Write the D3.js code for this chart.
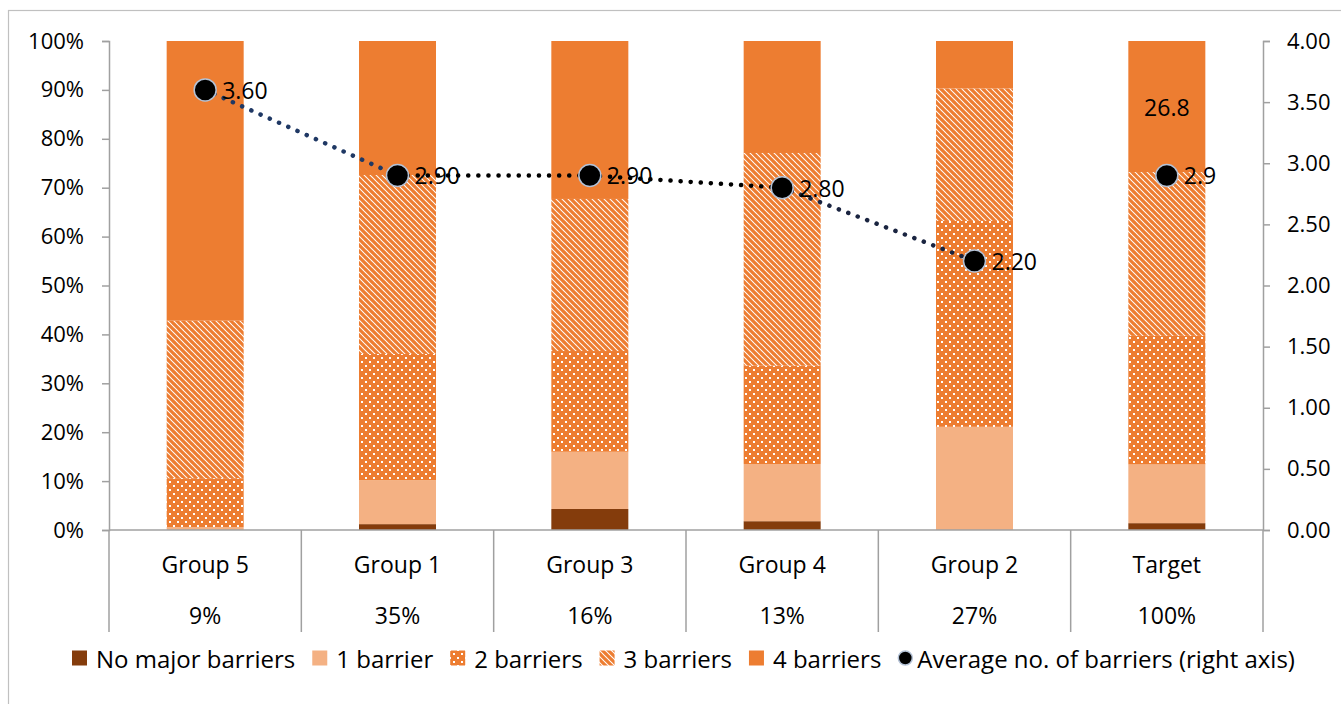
<!DOCTYPE html>
<html>
<head>
<meta charset="utf-8">
<script src="https://cdn.jsdelivr.net/npm/d3@7"></script>
<style>
  html, body { margin: 0; padding: 0; background: #fff; }
  svg { display: block; font-family: "Open Sans", sans-serif; }
</style>
</head>
<body>
<svg id="chart" width="1341" height="704"></svg>
<script>
// Share of respondents by number of major barriers, per group
const categories = ["Group 5", "Group 1", "Group 3", "Group 4", "Group 2", "Target"];
const groupShares = ["9%", "35%", "16%", "13%", "27%", "100%"];
const noBarriers   = [0.0, 1.2, 4.3, 1.8, 0.0, 1.4];
const oneBarrier   = [0.6, 9.0, 11.7, 11.7, 21.1, 12.0];
const twoBarriers  = [10.0, 25.8, 20.6, 20.1, 42.1, 26.3];
const threeBarriers= [32.2, 36.6, 31.1, 43.5, 27.1, 33.5];
const fourBarriers = [57.2, 27.4, 32.3, 22.9, 9.7, 26.8];
// Average number of barriers (right axis); the target point stands alone
const avgBarriers  = [3.60, 2.90, 2.90, 2.80, 2.20, 2.9];
const avgLabels    = ["3.60", "2.90", "2.90", "2.80", "2.20", "2.9"];
const leftTicks  = [0, 10, 20, 30, 40, 50, 60, 70, 80, 90, 100];
const rightTicks = [0, 0.5, 1, 1.5, 2, 2.5, 3, 3.5, 4];
const seriesNames = ["No major barriers", "1 barrier", "2 barriers", "3 barriers", "4 barriers"];

const svg = d3.select("#chart");
const ORANGE = "#ED7D31";
const fills = ["#843C0C", "#F4B183", "url(#dots)", "url(#stripes)", ORANGE];
const AXIS = "#a0a0a0";
const FONT = 22;
const CAT_FONT = 23;
const LEGEND_FONT = 24;

// patterns
const defs = svg.append("defs");
const dots = defs.append("pattern").attr("id", "dots").attr("patternUnits", "userSpaceOnUse")
  .attr("width", 8).attr("height", 8);
dots.append("rect").attr("width", 8).attr("height", 8).attr("fill", ORANGE);
dots.append("rect").attr("x", 1).attr("y", 1).attr("width", 2).attr("height", 2).attr("fill", "#fff");
dots.append("rect").attr("x", 5).attr("y", 5).attr("width", 2).attr("height", 2).attr("fill", "#fff");

const stripes = defs.append("pattern").attr("id", "stripes").attr("patternUnits", "userSpaceOnUse")
  .attr("width", 6).attr("height", 6);
stripes.append("rect").attr("width", 6).attr("height", 6).attr("fill", "#fff");
stripes.append("path").attr("d", "M-1,-1 L7,7 M-7,-1 L1,7 M5,-1 L13,7")
  .attr("stroke", ORANGE).attr("stroke-width", 3.2);

// outer frame
svg.append("rect").attr("x", 8.5).attr("y", 10.5).attr("width", 1345).attr("height", 705)
  .attr("fill", "none").attr("stroke", "#c0c0c0").attr("stroke-width", 1.2);

const plotLeft = 109, plotRight = 1263, plotTop = 41, plotBottom = 530;
const x = d3.scaleBand().domain(categories).range([plotLeft, plotRight]).paddingInner(0).paddingOuter(0);
const bw = 77;
const yL = d3.scaleLinear().domain([0, 100]).range([plotBottom, plotTop]);
const yR = d3.scaleLinear().domain([0, 4]).range([plotBottom, plotTop]);

// stacked bars
const table = categories.map((c, i) => ({
  cat: c,
  s0: noBarriers[i], s1: oneBarrier[i], s2: twoBarriers[i], s3: threeBarriers[i], s4: fourBarriers[i]
}));
const stack = d3.stack().keys(["s0", "s1", "s2", "s3", "s4"])(table);
stack.forEach((layer, k) => {
  svg.append("g").selectAll("rect").data(layer).join("rect")
    .attr("x", d => x(d.data.cat) + x.bandwidth() / 2 - bw / 2)
    .attr("width", bw)
    .attr("y", d => yL(d[1]))
    .attr("height", d => Math.max(0, yL(d[0]) - yL(d[1])))
    .attr("fill", fills[k]);
});

// value label inside the top segment of the target bar
const ti = categories.length - 1;
svg.append("text")
  .attr("x", x(categories[ti]) + x.bandwidth() / 2)
  .attr("y", yL(100 - fourBarriers[ti] / 2))
  .attr("text-anchor", "middle").attr("dominant-baseline", "central")
  .attr("font-size", CAT_FONT).attr("fill", "#000")
  .text(fourBarriers[ti].toFixed(1));

// left axis
const gl = svg.append("g").attr("transform", `translate(${plotLeft},0)`)
  .call(d3.axisLeft(yL).tickValues(leftTicks).tickFormat(d => d + "%").tickSize(7).tickPadding(18));
gl.select(".domain").attr("stroke", AXIS).attr("stroke-width", 1.5);
gl.selectAll(".tick line").attr("stroke", AXIS).attr("stroke-width", 1.5);
gl.selectAll("text").attr("font-size", FONT).attr("font-family", "Open Sans").attr("fill", "#000");

// right axis
const gr = svg.append("g").attr("transform", `translate(${plotRight},0)`)
  .call(d3.axisRight(yR).tickValues(rightTicks).tickFormat(d3.format(".2f")).tickSize(7).tickPadding(17));
gr.select(".domain").attr("stroke", AXIS).attr("stroke-width", 1.5);
gr.selectAll(".tick line").attr("stroke", AXIS).attr("stroke-width", 1.5);
gr.selectAll("text").attr("font-size", FONT).attr("font-family", "Open Sans").attr("fill", "#000");

// category axis with separators
svg.append("line").attr("x1", plotLeft).attr("x2", plotRight).attr("y1", plotBottom).attr("y2", plotBottom)
  .attr("stroke", AXIS).attr("stroke-width", 1.5);
const edges = categories.map(c => x(c)).concat([plotRight]);
svg.append("g").selectAll("line").data(edges).join("line")
  .attr("x1", d => d).attr("x2", d => d).attr("y1", plotBottom).attr("y2", 632)
  .attr("stroke", AXIS).attr("stroke-width", 1.5);
svg.append("g").selectAll("text").data(categories).join("text")
  .attr("x", d => x(d) + x.bandwidth() / 2).attr("y", 564)
  .attr("text-anchor", "middle").attr("dominant-baseline", "central")
  .attr("font-size", CAT_FONT).text(d => d);
svg.append("g").selectAll("text").data(groupShares).join("text")
  .attr("x", (d, i) => x(categories[i]) + x.bandwidth() / 2).attr("y", 615)
  .attr("text-anchor", "middle").attr("dominant-baseline", "central")
  .attr("font-size", CAT_FONT).text(d => d);

// average line (groups only), dotted
const pts = avgBarriers.slice(0, 5).map((v, i) => [x(categories[i]) + x.bandwidth() / 2, yR(v)]);
const segColors = ["#1F3864", "#000", "#000", "#1a2440"];
for (let i = 0; i < pts.length - 1; i++) {
  svg.append("path")
    .attr("d", d3.line()([pts[i], pts[i + 1]]))
    .attr("fill", "none").attr("stroke", segColors[i]).attr("stroke-width", 4.5)
    .attr("stroke-linecap", "round").attr("stroke-dasharray", "0.1 10");
}

// markers and labels
svg.append("g").selectAll("circle").data(avgBarriers).join("circle")
  .attr("cx", (d, i) => x(categories[i]) + x.bandwidth() / 2)
  .attr("cy", d => yR(d))
  .attr("r", 11).attr("fill", "#000").attr("stroke", "#b4c2d6").attr("stroke-width", 1.5);
svg.append("g").selectAll("text").data(avgBarriers).join("text")
  .attr("x", (d, i) => x(categories[i]) + x.bandwidth() / 2 + 17)
  .attr("y", d => yR(d))
  .attr("dominant-baseline", "central")
  .attr("font-size", CAT_FONT).text((d, i) => avgLabels[i]);

// legend
const lg = svg.append("g");
let lx = 72;
const ly = 658;
seriesNames.forEach((n, k) => {
  lg.append("rect").attr("x", lx).attr("y", ly - 7.5).attr("width", 15).attr("height", 15).attr("fill", fills[k]);
  const t = lg.append("text").attr("x", lx + 24).attr("y", ly).attr("dominant-baseline", "central")
    .attr("font-size", LEGEND_FONT).text(n);
  lx += 24 + t.node().getComputedTextLength() + 17;
});
lg.append("circle").attr("cx", lx + 7).attr("cy", ly).attr("r", 7).attr("fill", "#000")
  .attr("stroke", "#b4c2d6").attr("stroke-width", 1.5);
lg.append("text").attr("x", lx + 19).attr("y", ly).attr("dominant-baseline", "central")
  .attr("font-size", LEGEND_FONT).text("Average no. of barriers (right axis)");
</script>
</body>
</html>
